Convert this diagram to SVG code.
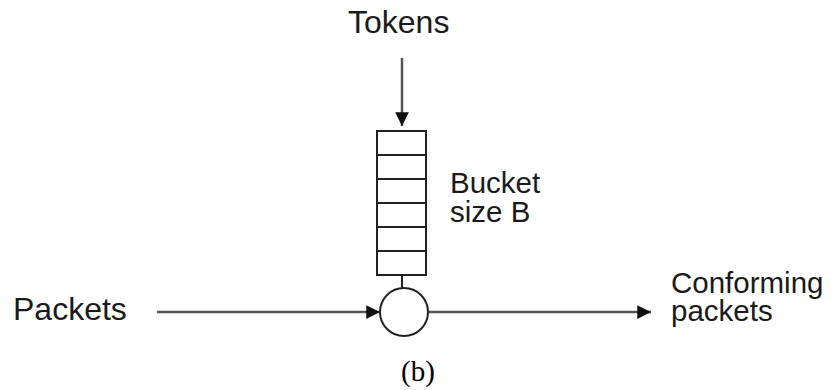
<svg xmlns="http://www.w3.org/2000/svg" width="837" height="390" viewBox="0 0 837 390">
<style>
.lbl{font-family:"Liberation Sans",Arial,sans-serif;font-size:32px;fill:#1a1a1a}
.lbl2{font-family:"Liberation Sans",Arial,sans-serif;font-size:29.5px;fill:#1a1a1a}
.cap{font-family:"Liberation Serif","Times New Roman",serif;font-size:29px;fill:#000}
.ln{stroke:#555;stroke-width:2.5;fill:none}
.shape{stroke:#222;stroke-width:2;fill:#fff}
</style>
<defs>
<marker id="ah" viewBox="0 0 10 10" refX="10" refY="5" markerWidth="6" markerHeight="5.5" markerUnits="strokeWidth" orient="auto">
<path d="M0,0 L10,5 L0,10 z" fill="#111"/>
</marker>
</defs>
<rect width="837" height="390" fill="#fff"/>
<g id="connectors">
<line class="ln" x1="402" y1="58" x2="402" y2="126" marker-end="url(#ah)"/>
<line class="ln" x1="157" y1="312" x2="380" y2="312" marker-end="url(#ah)"/>
<line class="ln" x1="428" y1="312" x2="651" y2="312" marker-end="url(#ah)"/>
<line class="shape" x1="402" y1="275" x2="402" y2="288"/>
</g>
<g id="tokens"><text class="lbl" x="348" y="33">Tokens</text></g>
<g id="bucket">
<rect class="shape" x="377" y="131" width="49" height="144"/>
<line class="shape" x1="377" y1="155" x2="426" y2="155"/>
<line class="shape" x1="377" y1="179" x2="426" y2="179"/>
<line class="shape" x1="377" y1="203" x2="426" y2="203"/>
<line class="shape" x1="377" y1="227" x2="426" y2="227"/>
<line class="shape" x1="377" y1="251" x2="426" y2="251"/>
</g>
<g id="bucket-label"><text class="lbl2" x="450" y="193">Bucket<tspan x="450" dy="29">size B</tspan></text></g>
<g id="meter"><circle class="shape" cx="404" cy="312" r="24"/></g>
<g id="packets"><text class="lbl" x="13" y="320">Packets</text></g>
<g id="conforming"><text class="lbl2" x="671" y="293">Conforming<tspan x="671" dy="28">packets</tspan></text></g>
<text class="cap" x="401" y="381">(b)</text>
</svg>
